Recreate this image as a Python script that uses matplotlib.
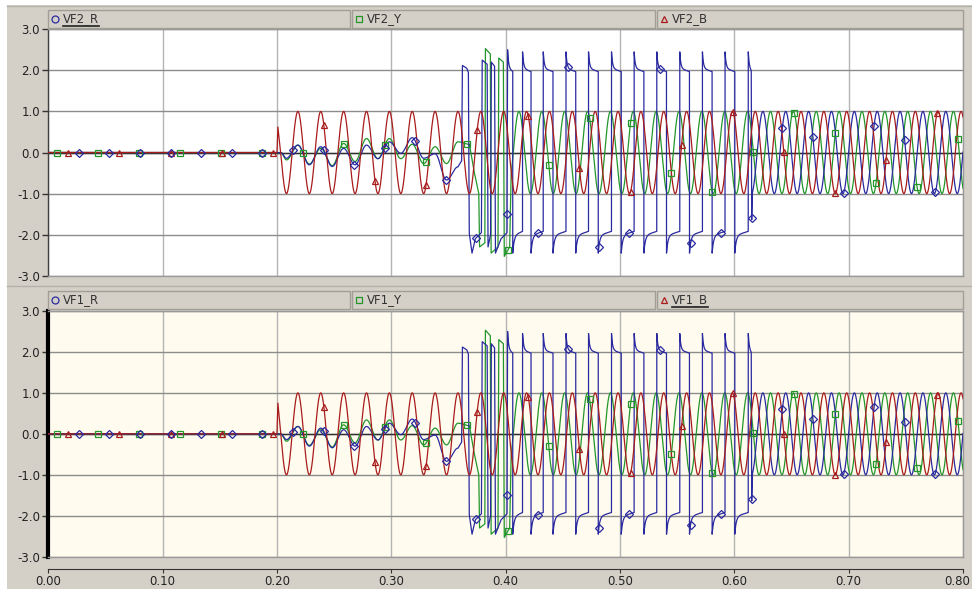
import numpy as np
import matplotlib
matplotlib.use("Agg")
import matplotlib.pyplot as plt
from matplotlib.patches import Rectangle
from matplotlib.lines import Line2D
from matplotlib.transforms import ScaledTranslation

W, H = 972, 589
DT = 5e-5

# ---- values ----
F_HZ = 50.0
T_END = 0.80
B_PEAK0 = 0.2183          # first peak of the red trace, phase reference
AMP = 1.0                 # steady amplitude of the three phases
b_spike = [0.62, 0.75]    # red switch-on spike (top panel, bottom panel)

# small oscillation after switch-on: extremes every half cycle
r_ext_t = [0.2033, 0.2083, 0.2183, 0.2283, 0.2383, 0.2483, 0.2583, 0.2683, 0.2783,
           0.2883, 0.2983, 0.3083, 0.3183, 0.3283, 0.3383, 0.3483, 0.3583]
r_ext_v = [0.0, -0.14, 0.18, -0.30, 0.14, -0.34, 0.10, -0.30, 0.18,
           -0.15, 0.26, -0.02, 0.36, -0.14, -0.03, -0.67, -0.35]
y_ext_t = r_ext_t + [0.3683]
y_ext_v = [0.0, -0.18, 0.18, -0.28, 0.10, -0.32, 0.22, -0.22, 0.34,
           -0.15, 0.34, -0.15, 0.20, -0.27, 0.14, -0.27, 0.26, 0.20]

# irregular burst before the steady pattern
r_burst_t = [0.3615, 0.3622, 0.3660, 0.3674, 0.3682, 0.3706, 0.3735, 0.3788, 0.3795,
             0.3838, 0.3846, 0.3868, 0.3875, 0.3903, 0.3911, 0.3960, 0.4012]
r_burst_v = [-0.20, 2.12, 2.05, 1.95, -1.97, -2.45, -2.10, -1.95, 2.25,
             2.15, -2.30, -2.00, 2.20, 2.10, -2.45, -2.10, -1.95]
y_burst_t = [0.3727, 0.3765, 0.3772, 0.3818, 0.3823, 0.3866, 0.3873, 0.3933,
             0.3940, 0.3980, 0.3988, 0.4035]
y_burst_v = [-0.50, -1.00, -2.30, -2.20, 2.53, 2.40, -2.45, -2.30,
             2.30, 2.20, -2.53, -2.30]
y_sine_on = 0.4047

# square-ish blue wave
sq_rise = [0.4017, 0.4148, 0.4329, 0.4528, 0.4725, 0.4926, 0.5124, 0.5322,
           0.5523, 0.5721, 0.5919, 0.6122]
sq_fall = [0.4062, 0.4222, 0.4414, 0.4613, 0.4810, 0.5011, 0.5209, 0.5407,
           0.5608, 0.5806, 0.6004, 0.6148]
sq_first_pk, sq_hi_pk, sq_hi, sq_lo_pk, sq_lo = 2.50, 2.45, 2.05, -2.45, -2.02
r_tail_t = [0.6152, 0.6158]
r_tail_v = [-1.64, -1.00]
r_sine_on = 0.6160

# marker positions (first, step)
mk_r = (0.02675, 0.02675)
mk_y = (0.008, 0.0358)
mk_b = (0.0175, 0.0447)

col_r, col_y, col_b = "#2a2aa0", "#23962a", "#a81c1c"
panels = [["VF2_R", "VF2_Y", "VF2_B"], ["VF1_R", "VF1_Y", "VF1_B"]]
underlined = [0, 2]
faces = ["#ffffff", "#fffbef"]


def wave(t0, t1, t_pk):
    t = np.arange(t0, t1 + DT / 2, DT)
    return t, AMP * np.cos(2 * np.pi * F_HZ * (t - t_pk))


def through(tk, vk, n=40):
    ts, vs = [], []
    for i in range(len(tk) - 1):
        u = np.linspace(0, 1, n, endpoint=False)
        ts.append(tk[i] + u * (tk[i + 1] - tk[i]))
        vs.append(vk[i] + (vk[i + 1] - vk[i]) * (1 - np.cos(np.pi * u)) / 2)
    ts.append([tk[-1]])
    vs.append([vk[-1]])
    return np.concatenate(ts), np.concatenate(vs)


def square(rises, falls, tau=0.0009):
    ts, vs = [], []
    for i, (r, f) in enumerate(zip(rises, falls)):
        pk = sq_first_pk if i == 0 else sq_hi_pk
        th = np.arange(r, f, DT)
        ts.append(th)
        vs.append(sq_hi + (pk - sq_hi) * np.exp(-(th - r) / tau) - 0.08 * (th - r) / (f - r))
        if i + 1 < len(rises):
            tl = np.arange(f, rises[i + 1], DT)
            ts.append(tl)
            vs.append(sq_lo + (sq_lo_pk - sq_lo) * np.exp(-(tl - f) / (1.4 * tau))
                      + 0.1 * (tl - f) / (rises[i + 1] - f))
    return np.concatenate(ts), np.concatenate(vs)


def join(*segs):
    return np.concatenate([s[0] for s in segs]), np.concatenate([s[1] for s in segs])


pk_y = B_PEAK0 - 1 / (3 * F_HZ)
pk_r = B_PEAK0 + 1 / (3 * F_HZ)

ser_r = join(([0.0], [0.0]), through(r_ext_t, r_ext_v), (r_burst_t, r_burst_v),
             square(sq_rise, sq_fall), (r_tail_t, r_tail_v), wave(r_sine_on, T_END, pk_r))
ser_y = join(([0.0], [0.0]), through(y_ext_t, y_ext_v), (y_burst_t, y_burst_v),
             wave(y_sine_on, T_END, pk_y))


def ser_b(spike):
    return join(([0.0, 0.2, 0.2008], [0.0, 0.0, spike]), wave(0.2035, T_END, B_PEAK0))


def marks(first, step):
    return np.arange(first, T_END, step)


def px(x, y):
    return x / W, 1 - y / H


fig = plt.figure(figsize=(W / 100, H / 100), dpi=100, facecolor="white")
fig.add_artist(Rectangle(px(7, H), (W - 7) / W, (H - 5) / H, transform=fig.transFigure,
                         facecolor="#d4d0c8", edgecolor="none", zorder=-10))
fig.add_artist(Line2D([7 / W, 1], [1 - 6 / H] * 2, transform=fig.transFigure, color="#b5b2ab", lw=1))
fig.add_artist(Line2D([7 / W, 1], [1 - 286 / H] * 2, transform=fig.transFigure, color="#b5b2ab", lw=1))

ax_left, ax_right = 48.3, 963
plot_tb = [(29.3, 275.7), (311, 556.7)]
leg_tb = [(10, 28), (291, 309)]
boxes = [(48, 350), (352, 655), (657, 963)]

for p in range(2):
    top, bot = plot_tb[p]
    ax = fig.add_axes([ax_left / W, 1 - bot / H, (ax_right - ax_left) / W, (bot - top) / H])
    ax.set_facecolor(faces[p])
    ax.set_xlim(0, T_END)
    ax.set_ylim(-3, 3)
    ax.set_xticks(np.arange(0, 0.81, 0.1))
    ax.set_yticks(np.arange(-3, 4, 1))
    ax.set_yticklabels(["%.1f" % v for v in np.arange(-3, 4, 1)])
    ax.xaxis.grid(True, color="#b4b4b4", lw=1)
    ax.yaxis.grid(True, color="#8c8c8c", lw=1)
    ax.set_axisbelow(True)
    ax.axhline(0, color="#303030", lw=1, zorder=1.5)
    ax.tick_params(axis="x", length=0, labelbottom=False)
    ax.tick_params(axis="y", direction="out", length=4.5, width=1, color="#333333",
                   labelsize=8.5, pad=1.5, labelcolor="#222222")
    for s in ax.spines.values():
        s.set_color("#9a9a9a")
        s.set_linewidth(1)
    if p == 0:
        ax.spines["left"].set_color("#404040")
    else:
        ax.spines["left"].set_color("black")
        ax.spines["left"].set_linewidth(3)

    sb = ser_b(b_spike[p])
    ax.plot(*ser_y, color=col_y, lw=0.9, zorder=3)
    ax.plot(*ser_r, color=col_r, lw=0.9, zorder=4)
    ax.plot(*sb, color=col_b, lw=0.9, zorder=5)
    for ser, mk, c, m, ms in [(ser_y, mk_y, col_y, "s", 4.5), (sb, mk_b, col_b, "^", 5),
                              (ser_r, mk_r, col_r, "D", 4)]:
        mt = marks(*mk)
        ax.plot(mt, np.interp(mt, ser[0], ser[1]), ls="none", marker=m, ms=ms,
                mfc="none", mec=c, mew=0.9, zorder=6)

    # legend bar
    lt, lb = leg_tb[p]
    yc = (lt + lb) / 2
    for i, (x0, x1) in enumerate(boxes):
        fig.add_artist(Rectangle(px(x0, lb), (x1 - x0) / W, (lb - lt) / H, transform=fig.transFigure,
                                 facecolor="#d4d0c8", edgecolor="#a29e96", lw=1))
        c, m = [(col_r, "o"), (col_y, "s"), (col_b, "^")][i]
        fig.add_artist(Line2D([(x0 + 7) / W], [1 - yc / H], transform=fig.transFigure, marker=m,
                              ms=5, mfc="none", mec=c, mew=0.9, ls="none"))
        txt = fig.text((x0 + 15) / W, 1 - yc / H, panels[p][i], fontsize=8.5, color="#333333",
                       va="center", ha="left")
        if i == underlined[p]:
            fig.canvas.draw()
            bb = txt.get_window_extent()
            fig.add_artist(Line2D([bb.x0 / W, bb.x1 / W], [1 - (yc + 7) / H] * 2,
                                  transform=fig.transFigure, color="#222222", lw=1.2))

# shared time axis at the bottom
axx = fig.add_axes([ax_left / W, 1 - 569 / H, (ax_right - ax_left) / W, 0.0001])
axx.set_facecolor("none")
axx.set_xlim(0, T_END)
axx.set_yticks([])
for k in ["top", "left", "right"]:
    axx.spines[k].set_visible(False)
axx.spines["bottom"].set_color("#333333")
axx.set_xticks(np.arange(0, 0.81, 0.1))
axx.set_xticklabels(["%.2f" % v for v in np.arange(0, 0.81, 0.1)])
axx.tick_params(axis="x", direction="out", length=3, color="#333333", labelsize=8.5,
                pad=1, labelcolor="#222222")
# keep the last label inside the picture
last = axx.get_xticklabels()[-1]
last.set_transform(last.get_transform() + ScaledTranslation(-6 / 100, 0, fig.dpi_scale_trans))

fig.savefig("out.png", dpi=100, facecolor=fig.get_facecolor())
